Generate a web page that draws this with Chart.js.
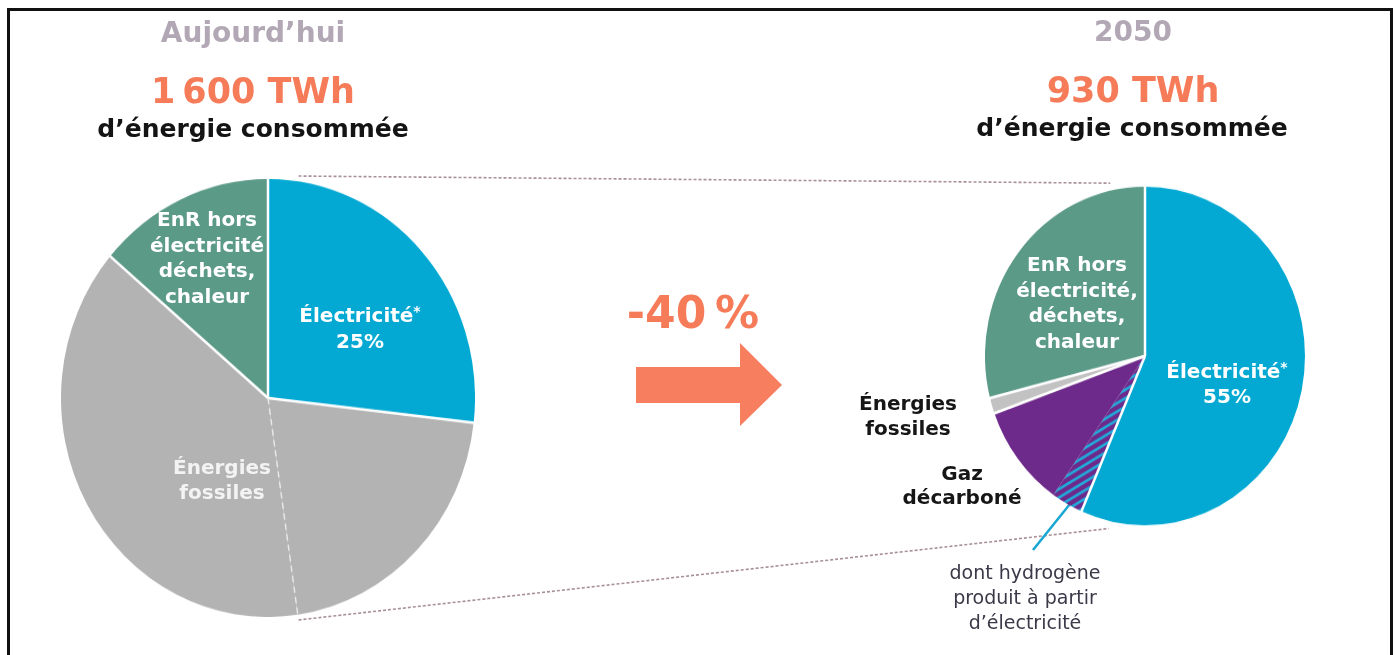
<!DOCTYPE html>
<html lang="fr">
<head>
    <meta charset="UTF-8">
    <title>Énergie consommée : aujourd'hui et en 2050</title>
    <script src="https://cdn.jsdelivr.net/npm/chart.js"></script>
    <style>
        * {
            margin: 0;
            padding: 0;
            box-sizing: border-box;
        }

        body {
            width: 1396px;
            height: 655px;
            position: relative;
            overflow: hidden;
            background: #fff;
            font-family: 'DejaVu Sans', Verdana, sans-serif;
        }

        /* Black frame around the figure */
        .frame {
            position: absolute;
            left: 7px;
            top: 8px;
            width: 1386px;
            height: 700px;
            border: 3px solid #111;
        }

        #overlay {
            position: absolute;
            left: 0;
            top: 0;
        }

        .pie {
            position: absolute;
            transform: scaleY(1.058);
            transform-origin: 50% 50%;
        }

        /* Text blocks are placed by their centre */
        .c {
            position: absolute;
            transform: translate(-50%, -50%);
            white-space: nowrap;
            text-align: center;
            font-weight: bold;
        }

        .year { font-size: 28px; line-height: 28px; color: #b2a7b4; }
        .total { font-size: 35px; line-height: 35px; color: #f57b59; }
        .sub { font-size: 25px; line-height: 25px; color: #141414; }
        .change { font-size: 44px; line-height: 44px; color: #f57b59; }
        .in { font-size: 20px; color: #fff; }
        .out { font-size: 20px; color: #161616; }
        .note { font-size: 19px; font-weight: normal; color: #3b3848; line-height: 25px; }
        .ast { font-size: 0.7em; vertical-align: 0.4em; }
    </style>
</head>
<body>
    <div class="frame"></div>
    <canvas id="overlay" width="1396" height="655"></canvas>

    <!-- Pies -->
    <div class="pie" style="left:61px; top:191px;">
        <canvas id="pieToday" width="414" height="414"></canvas>
    </div>
    <div class="pie" style="left:985px; top:196px;">
        <canvas id="pie2050" width="320" height="320"></canvas>
    </div>

    <!-- Headings -->
    <div class="c year" id="yearLeft" style="left:253px; top:33px;"></div>
    <div class="c total" id="totalLeft" style="left:253px; top:91px;"></div>
    <div class="c sub" style="left:253px; top:128px;">d’énergie consommée</div>

    <div class="c year" id="yearRight" style="left:1133px; top:32px;"></div>
    <div class="c total" id="totalRight" style="left:1133px; top:90px;"></div>
    <div class="c sub" style="left:1132px; top:127px;">d’énergie consommée</div>

    <div class="c change" id="change" style="left:693px; top:313px;"></div>

    <!-- Labels, left pie -->
    <div class="c in" style="left:207px; top:258px; line-height:25.7px;">EnR hors<br>électricité<br>déchets,<br>chaleur</div>
    <div class="c in" style="left:360px; top:326px; line-height:26px;">Électricité<span class="ast">*</span><br><span id="elecToday"></span></div>
    <div class="c in" style="left:222px; top:480px; line-height:25px; color:#f3f3f3;">Énergies<br>fossiles</div>

    <!-- Labels, right pie -->
    <div class="c in" style="left:1077px; top:303px; line-height:25.5px;">EnR hors<br>électricité,<br>déchets,<br>chaleur</div>
    <div class="c in" style="left:1227px; top:382px; line-height:25px;">Électricité<span class="ast">*</span><br><span id="elec2050"></span></div>
    <div class="c out" style="left:908px; top:416px; line-height:25px;">Énergies<br>fossiles</div>
    <div class="c out" style="left:962px; top:485px; line-height:24px;">Gaz<br>décarboné</div>
    <div class="c note" style="left:1025px; top:597px;">dont hydrogène<br>produit à partir<br>d’électricité</div>

    <script>
        // Headings
        const years = ['Aujourd’hui', '2050'];
        const totals = ['1\u202F600 TWh', '930 TWh'];
        const change = '-40\u202F%';
        const elecShareLabels = ['25%', '55%'];

        // Today: share of each slice (%)
        const todayLabels = ['Électricité', 'Énergies fossiles', 'Énergies fossiles', 'EnR hors électricité, déchets, chaleur'];
        const todayValues = [26.8, 20.9, 38.5, 13.8];

        // 2050
        const futureLabels = ['Électricité', 'dont hydrogène produit à partir d’électricité', 'Gaz décarboné', 'Énergies fossiles', 'EnR hors électricité, déchets, chaleur'];
        const futureValues = [56.5, 3.2, 9.8, 1.5, 29];

        document.getElementById('yearLeft').textContent = years[0];
        document.getElementById('yearRight').textContent = years[1];
        document.getElementById('totalLeft').textContent = totals[0];
        document.getElementById('totalRight').textContent = totals[1];
        document.getElementById('change').textContent = change;
        document.getElementById('elecToday').textContent = elecShareLabels[0];
        document.getElementById('elec2050').textContent = elecShareLabels[1];

        const BLUE = '#03a9d3';
        const GREEN = '#5c9a88';
        const GREY = '#b3b3b3';
        const PURPLE = '#6e2a8b';

        // Blue stripes on purple for the hydrogen part
        function hatch() {
            const w = 14, h = 8;
            const c = document.createElement('canvas');
            c.width = w;
            c.height = h;
            const g = c.getContext('2d');
            g.fillStyle = PURPLE;
            g.fillRect(0, 0, w, h);
            g.strokeStyle = '#22a9d9';
            g.lineWidth = 2.6;
            g.beginPath();
            [[0, 0], [-w, 0], [w, 0], [0, -h], [0, h]].forEach(([dx, dy]) => {
                g.moveTo(dx, h + dy);
                g.lineTo(w + dx, dy);
            });
            g.stroke();
            return g.createPattern(c, 'repeat');
        }

        // White lines between slices, drawn at each slice's start angle
        const separatorPlugin = {
            id: 'separators',
            afterDatasetsDraw(chart, args, opts) {
                const ctx = chart.ctx;
                chart.getDatasetMeta(0).data.forEach((arc, i) => {
                    const style = opts.styles[i];
                    if (!style) return;
                    const r = arc.outerRadius + 1;
                    ctx.save();
                    ctx.beginPath();
                    ctx.moveTo(arc.x, arc.y);
                    ctx.lineTo(arc.x + r * Math.cos(arc.startAngle), arc.y + r * Math.sin(arc.startAngle));
                    if (style === 'dashed') {
                        ctx.setLineDash([6, 4]);
                        ctx.strokeStyle = 'rgba(238,238,238,0.85)';
                        ctx.lineWidth = 1.5;
                    } else {
                        ctx.strokeStyle = '#fff';
                        ctx.lineWidth = 2.5;
                    }
                    ctx.stroke();
                    ctx.restore();
                });
            }
        };

        function pieConfig(labels, values, colors, styles) {
            return {
                type: 'pie',
                data: {
                    labels: labels,
                    datasets: [{
                        data: values,
                        backgroundColor: colors,
                        borderWidth: 0,
                        hoverOffset: 0
                    }]
                },
                options: {
                    responsive: false,
                    animation: false,
                    events: [],
                    layout: { padding: 0 },
                    plugins: {
                        legend: { display: false },
                        tooltip: { enabled: false },
                        separators: { styles: styles }
                    }
                },
                plugins: [separatorPlugin]
            };
        }

        const todayChart = new Chart(document.getElementById('pieToday'),
            pieConfig(todayLabels, todayValues, [BLUE, GREY, GREY, GREEN], ['solid', 'solid', 'dashed', 'solid']));

        const futureChart = new Chart(document.getElementById('pie2050'),
            pieConfig(futureLabels, futureValues, [BLUE, hatch(), PURPLE, '#c2c2c2', GREEN], ['solid', 'solid', null, 'solid', 'solid']));

        // Point on a pie, in page pixels (the pie boxes are stretched a little)
        function piePoint(chart, angle, extra) {
            const arc = chart.getDatasetMeta(0).data[0];
            const rect = chart.canvas.getBoundingClientRect();
            const sx = rect.width / chart.width;
            const sy = rect.height / chart.height;
            const r = arc.outerRadius + extra;
            return [rect.left + (arc.x + r * Math.cos(angle)) * sx,
                    rect.top + (arc.y + r * Math.sin(angle)) * sy];
        }

        // Dotted lines linking the two pies, the arrow and the leader line
        function drawOverlay() {
            const ctx = document.getElementById('overlay').getContext('2d');

            const split = todayChart.getDatasetMeta(0).data[2].startAngle;
            const links = [
                [piePoint(todayChart, -split, 5), piePoint(futureChart, -102 * Math.PI / 180, 7)],
                [piePoint(todayChart, split, 5), piePoint(futureChart, 102.5 * Math.PI / 180, 7)]
            ];
            ctx.save();
            ctx.strokeStyle = '#a88f99';
            ctx.lineWidth = 1.6;
            ctx.setLineDash([3, 2]);
            links.forEach(([a, b]) => {
                ctx.beginPath();
                ctx.moveTo(a[0], a[1]);
                ctx.lineTo(b[0], b[1]);
                ctx.stroke();
            });
            ctx.restore();

            // Arrow
            ctx.fillStyle = '#f77e5f';
            ctx.beginPath();
            ctx.moveTo(636, 367);
            ctx.lineTo(740, 367);
            ctx.lineTo(740, 343);
            ctx.lineTo(782, 385);
            ctx.lineTo(740, 426);
            ctx.lineTo(740, 403);
            ctx.lineTo(636, 403);
            ctx.closePath();
            ctx.fill();

            // Leader line to the hydrogen part
            ctx.strokeStyle = '#17a7d2';
            ctx.lineWidth = 2.5;
            ctx.beginPath();
            ctx.moveTo(1033, 550);
            ctx.lineTo(1078, 494);
            ctx.stroke();
        }

        drawOverlay();
    </script>
</body>
</html>
